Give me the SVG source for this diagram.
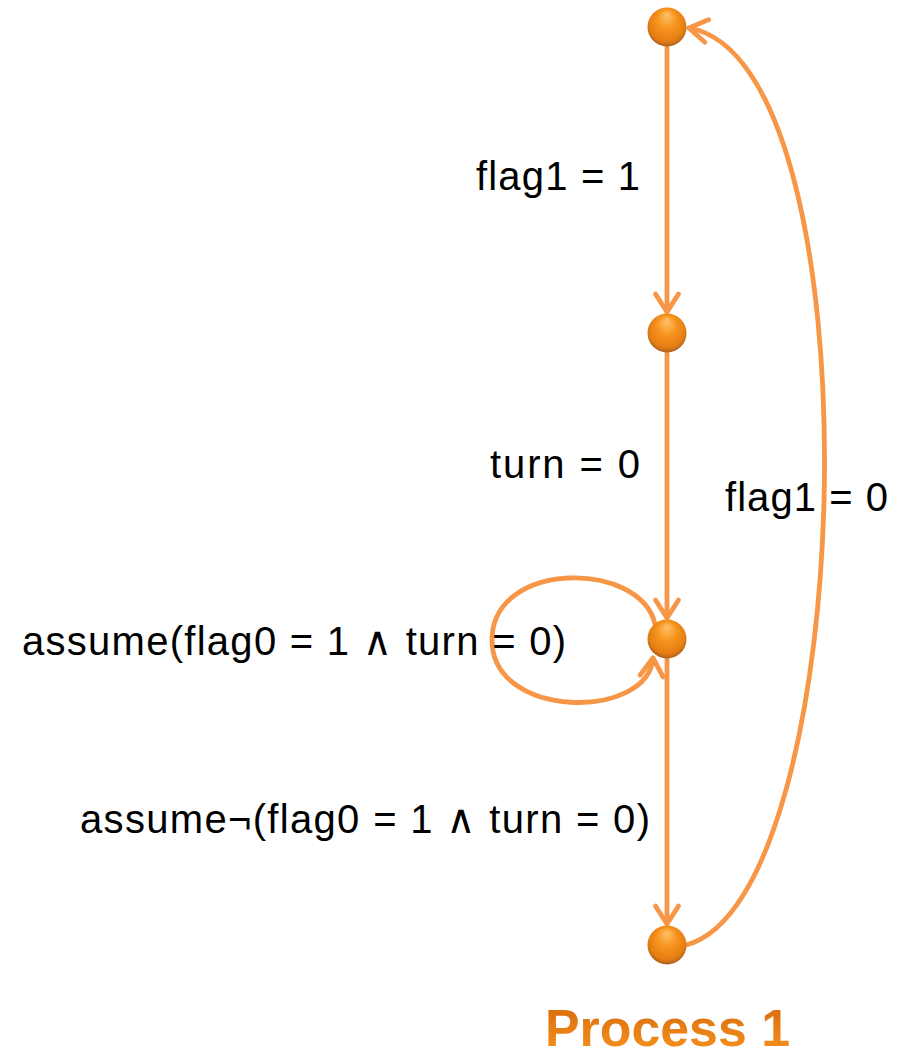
<svg xmlns="http://www.w3.org/2000/svg" width="911" height="1057" viewBox="0 0 911 1057">
<defs>
<style>
.edge{fill:none;stroke:#F79646;stroke-width:4.8;stroke-linecap:round}
.lbl{font-family:"Liberation Sans","DejaVu Sans",sans-serif;font-size:40px;fill:#000}
.title{font-family:"Liberation Sans",sans-serif;font-weight:bold;font-size:52px;fill:url(#tg)}
</style>
<radialGradient id="ng" cx="50%" cy="45%" r="55%" fx="50%" fy="18%">
<stop offset="0" stop-color="#FFC36A"/>
<stop offset="0.45" stop-color="#F7951F"/>
<stop offset="0.85" stop-color="#E57D12"/>
<stop offset="1" stop-color="#A8621F"/>
</radialGradient>
<linearGradient id="tg" x1="0" y1="0" x2="0" y2="1">
<stop offset="0" stop-color="#D4670B"/>
<stop offset="1" stop-color="#F9951E"/>
</linearGradient>
<marker id="ah" markerUnits="userSpaceOnUse" viewBox="-22 -14 26 28" markerWidth="26" markerHeight="28" refX="0" refY="0" orient="auto" overflow="visible">
<path d="M-18,-11.5 L0,0 L-18,11.5" fill="none" stroke="#F79646" stroke-width="4.8" stroke-linecap="round" stroke-linejoin="round"/>
</marker>
</defs>
<g id="connectors">
<path class="edge" d="M667,47 L667,312" marker-end="url(#ah)"/>
<path class="edge" d="M667,352 L667,618" marker-end="url(#ah)"/>
<path class="edge" d="M667,659 L667,924" marker-end="url(#ah)"/>
<path class="edge" d="M686,945 C860,900 880,60 689,28" marker-end="url(#ah)"/>
<path class="edge" d="M655,624 C640,560 492,560 492,640 C492,720 648,720 653,658" marker-end="url(#ah)"/>
</g>
<g id="labels">
<text class="lbl" x="476" y="190" textLength="164" lengthAdjust="spacing">flag1 = 1</text>
<text class="lbl" x="490" y="478" textLength="150" lengthAdjust="spacing">turn = 0</text>
<text class="lbl" x="725" y="511" textLength="163" lengthAdjust="spacing">flag1 = 0</text>
<text class="lbl" x="22" y="655" textLength="544" lengthAdjust="spacing">assume(flag0 = 1 ∧ turn = 0)</text>
<text class="lbl" x="80" y="833" textLength="570" lengthAdjust="spacing">assume¬(flag0 = 1 ∧ turn = 0)</text>
</g>
<g id="n1"><circle cx="667" cy="27" r="19.5" fill="url(#ng)"/></g>
<g id="n2"><circle cx="667" cy="333" r="19.5" fill="url(#ng)"/></g>
<g id="n3"><circle cx="667" cy="639" r="19.5" fill="url(#ng)"/></g>
<g id="n4"><circle cx="667" cy="945" r="19.5" fill="url(#ng)"/></g>
<g id="title"><text class="title" x="545" y="1046" textLength="245" lengthAdjust="spacingAndGlyphs">Process 1</text></g>
</svg>
